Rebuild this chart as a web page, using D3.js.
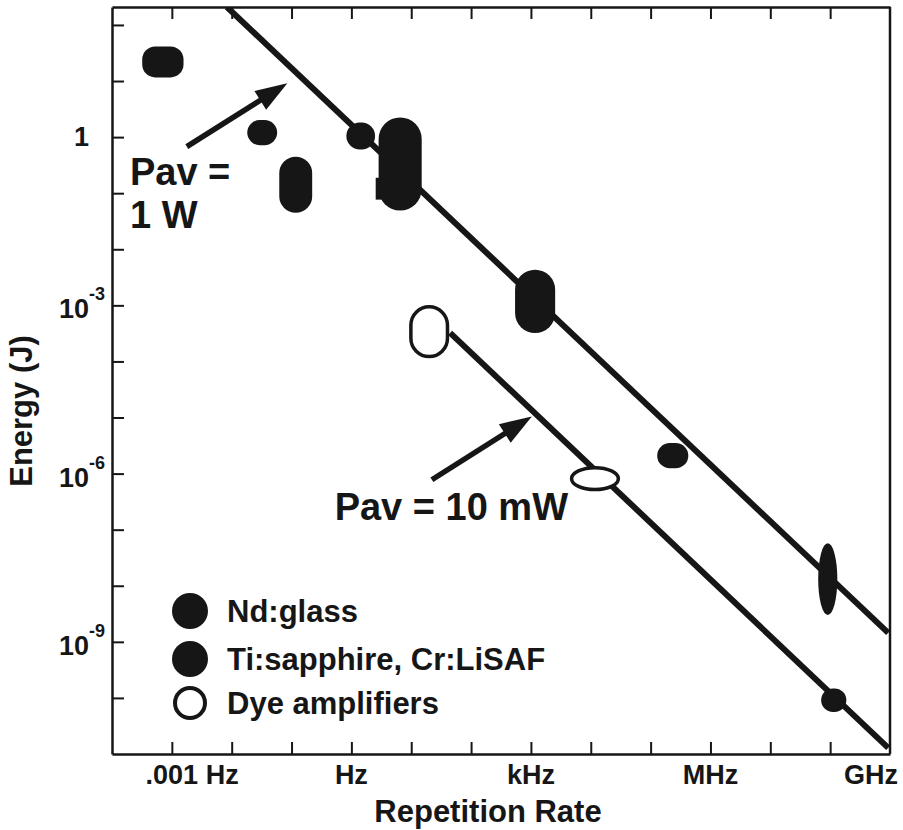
<!DOCTYPE html>
<html>
<head>
<meta charset="utf-8">
<style>
  body { margin: 0; background: #fff; }
  svg { display: block; }
  text { font-family: "Liberation Sans", Arial, Helvetica, sans-serif; font-weight: bold; fill: #161616; }
</style>
</head>
<body>
<svg width="903" height="830"></svg>
<script src="https://d3js.org/d3.v7.min.js"></script>
<script>

// ---- data (exponents of ten) ----
var xTickExp = [-3, -2, -1, 0, 1, 2, 3, 4, 5, 6, 7, 8];
var yTickExp = [2, 1, 0, -1, -2, -3, -4, -5, -6, -7, -8, -9, -10];
var xLabelExp = [-3, 0, 3, 6, 9];
var xLabelText = [".001 Hz", "Hz", "kHz", "MHz", "GHz"];
var yLabelExp = [0, -3, -6, -9];

// systems: repetition rate range and energy range (log10 Hz, log10 J)
var sysKind  = ["nd", "nd", "nd", "ti", "ti", "ti", "ti", "dye", "dye", "ti", "ti", "ti"];
var sysShape = ["box", "pill", "pill", "pill", "pill", "square", "pill", "pill", "ellipse", "pill", "ellipse", "pill"];
var sysFLo = [-3.495, -1.74, -1.205, -0.084, 0.455, 0.406, 2.735, 0.965, 3.65, 5.11, 7.80, 7.85];
var sysFHi = [-2.805, -1.24, -0.655, 0.396, 1.175, 0.566, 3.405, 1.635, 4.49, 5.63, 8.12, 8.27];
var sysELo = [1.065, -0.145, -1.35, -0.22, -1.31, -1.115, -3.495, -3.945, -6.315, -5.905, -8.52, -10.25];
var sysEHi = [1.615, 0.305, -0.35, 0.26, 0.35, -0.725, -2.365, -2.995, -5.865, -5.455, -7.24, -9.83];

// constant average power lines: endpoints (log10 Hz, log10 J)
var lineNames = ["1 W", "10 mW"];
var lineF0 = [-2.08, 1.65];
var lineE0 = [2.32, -3.49];
var lineF1 = [8.97, 8.97];
var lineE1 = [-8.84, -10.89];

// arrows pointing at the lines
var arrowTailF = [-2.75, 1.345];
var arrowTailE = [-0.17, -6.11];
var arrowTipF  = [-1.07, 3.015];
var arrowTipE  = [0.96, -4.98];

// annotation labels
var noteText = ["Pav =", "1 W", "Pav = 10 mW"];
var noteF = [-3.70, -3.70, -0.28];
var noteE = [-0.85, -1.62, -6.83];

var legendText = ["Nd:glass", "Ti:sapphire, Cr:LiSAF", "Dye amplifiers"];
var legendKind = ["nd", "ti", "dye"];

// ---- layout ----
var svg = d3.select("svg"),
    width = +svg.attr("width"),
    height = +svg.attr("height");

var plotL = 112, plotR = 890, plotT = 7, plotB = 754;
var ink = "#161616";
var p10 = function(e) { return Math.pow(10, e); };

var x = d3.scaleLog().domain([1e-4, 1e9]).range([plotL, plotR]);
var y = d3.scaleLog().domain([1e-11, p10(2.32)]).range([plotB, plotT]);

svg.append("clipPath").attr("id", "plot")
  .append("rect").attr("x", plotL).attr("y", plotT)
  .attr("width", plotR - plotL).attr("height", plotB - plotT);

// ---- power lines ----
svg.append("g").attr("clip-path", "url(#plot)")
  .selectAll("line").data(lineNames).enter().append("line")
  .attr("x1", function(d, i) { return x(p10(lineF0[i])); })
  .attr("y1", function(d, i) { return y(p10(lineE0[i])); })
  .attr("x2", function(d, i) { return x(p10(lineF1[i])); })
  .attr("y2", function(d, i) { return y(p10(lineE1[i])); })
  .attr("stroke", ink).attr("stroke-width", 6);

// ---- arrows ----
var arrows = svg.append("g");
arrowTipF.forEach(function(d, i) {
  var x0 = x(p10(arrowTailF[i])), y0 = y(p10(arrowTailE[i])),
      x1 = x(p10(arrowTipF[i])), y1 = y(p10(arrowTipE[i]));
  var dx = x1 - x0, dy = y1 - y0, len = Math.sqrt(dx * dx + dy * dy);
  var ux = dx / len, uy = dy / len, hl = 32, hw = 11;
  var bx = x1 - ux * hl, by = y1 - uy * hl;
  arrows.append("line")
    .attr("x1", x0).attr("y1", y0).attr("x2", bx + ux * 2).attr("y2", by + uy * 2)
    .attr("stroke", ink).attr("stroke-width", 5.5);
  arrows.append("path")
    .attr("d", "M" + x1 + "," + y1 +
               "L" + (bx - uy * hw) + "," + (by + ux * hw) +
               "L" + (bx + uy * hw) + "," + (by - ux * hw) + "Z")
    .attr("fill", ink);
});

// ---- system markers ----
function drawMark(sel, kind, shape, x0, x1, y0, y1) {
  var sw = kind === "dye" ? 3.5 : 0;
  var w = x1 - x0 - sw, h = y1 - y0 - sw;
  var rx, ry;
  if (shape === "ellipse") { rx = w / 2; ry = h / 2; }
  else if (shape === "box") { rx = ry = Math.min(w, h) * 0.42; }
  else if (shape === "square") { rx = ry = 0; }
  else { rx = ry = Math.min(w, h) / 2; }
  sel.append("rect")
    .attr("x", x0 + sw / 2).attr("y", y0 + sw / 2)
    .attr("width", w).attr("height", h)
    .attr("rx", rx).attr("ry", ry)
    .attr("fill", kind === "dye" ? "#fff" : ink)
    .attr("stroke", kind === "dye" ? ink : "none")
    .attr("stroke-width", sw);
}

var marks = svg.append("g");
sysKind.forEach(function(k, i) {
  drawMark(marks, k, sysShape[i],
    x(p10(sysFLo[i])), x(p10(sysFHi[i])),
    y(p10(sysEHi[i])), y(p10(sysELo[i])));
});

// ---- axes ----
function styleAxis(g) {
  g.select(".domain").attr("stroke", ink).attr("stroke-width", 2.5);
  g.selectAll(".tick line").attr("stroke", ink).attr("stroke-width", 2);
}

svg.append("g").attr("transform", "translate(0," + plotB + ")")
  .call(d3.axisBottom(x).tickValues(xTickExp.map(p10)).tickSize(-12).tickSizeOuter(0).tickFormat(""))
  .call(styleAxis);
svg.append("g").attr("transform", "translate(0," + plotT + ")")
  .call(d3.axisTop(x).tickValues(xTickExp.map(p10)).tickSize(-12).tickSizeOuter(0).tickFormat(""))
  .call(styleAxis);
svg.append("g").attr("transform", "translate(" + plotL + ",0)")
  .call(d3.axisLeft(y).tickValues(yTickExp.map(p10)).tickSize(-12).tickSizeOuter(0).tickFormat(""))
  .call(styleAxis);
svg.append("line")
  .attr("x1", plotR).attr("x2", plotR).attr("y1", plotT).attr("y2", plotB)
  .attr("stroke", ink).attr("stroke-width", 2.5);

// x labels: numeric part centred on its tick
xLabelExp.forEach(function(e, i) {
  var parts = xLabelText[i].split(" ");
  var t = svg.append("text").attr("y", plotB + 30).attr("font-size", 27);
  var head = t.append("tspan").text(parts[0]);
  if (parts.length > 1) t.append("tspan").text(" " + parts[1]);
  var cx = x(p10(e));
  var total = t.node().getComputedTextLength();
  var headW = head.node().getComputedTextLength();
  var x0 = parts.length > 1 ? cx - headW / 2 : cx - total / 2;
  if (x0 + total > width - 5) x0 = width - 5 - total;
  t.attr("x", x0);
});

// y labels
yLabelExp.forEach(function(e) {
  var cy = y(p10(e));
  if (e === 0) {
    svg.append("text").attr("x", 89).attr("y", cy + 9)
      .attr("text-anchor", "end").attr("font-size", 27).text("1");
  } else {
    svg.append("text").attr("x", 89).attr("y", cy + 13)
      .attr("text-anchor", "end").attr("font-size", 27).text("10");
    svg.append("text").attr("x", 89).attr("y", cy - 5)
      .attr("font-size", 18).text(e);
  }
});

// axis titles
svg.append("text").attr("x", 488).attr("y", 822)
  .attr("text-anchor", "middle").attr("font-size", 31).text("Repetition Rate");
svg.append("text").attr("transform", "translate(32,411) rotate(-90)")
  .attr("text-anchor", "middle").attr("font-size", 31).text("Energy (J)");

// annotations
noteText.forEach(function(s, i) {
  svg.append("text")
    .attr("x", x(p10(noteF[i]))).attr("y", y(p10(noteE[i])))
    .attr("font-size", 38).text(s);
});

// legend
var legY = [611, 659, 703];
legendText.forEach(function(s, i) {
  var g = svg.append("g").attr("transform", "translate(190," + legY[i] + ")");
  if (legendKind[i] === "dye") {
    g.append("circle").attr("r", 15).attr("fill", "#fff").attr("stroke", ink).attr("stroke-width", 4);
  } else {
    g.append("circle").attr("r", 18).attr("fill", ink);
  }
  g.append("text").attr("x", 37).attr("y", 11).attr("font-size", 31).text(s);
});

</script>
</body>
</html>
